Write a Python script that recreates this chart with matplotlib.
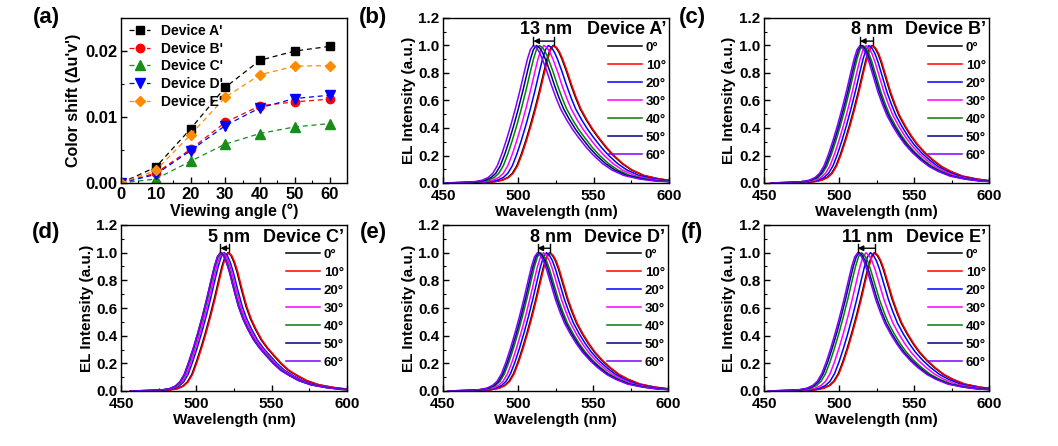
import numpy as np
import matplotlib.pyplot as plt
from matplotlib.ticker import MultipleLocator

plt.rcParams['font.family'] = ['Liberation Sans', 'DejaVu Sans']
plt.rcParams['font.weight'] = 'bold'
plt.rcParams['axes.labelweight'] = 'bold'
plt.rcParams['axes.linewidth'] = 1.0

# (a) colour shift vs viewing angle
angles = [0, 10, 20, 30, 40, 50, 60]
shift_a = [0, 0.0024, 0.0082, 0.0145, 0.0186, 0.0200, 0.0207]
shift_b = [0, 0.0015, 0.0051, 0.0092, 0.0117, 0.0123, 0.0127]
shift_c = [0, 0.0006, 0.0033, 0.0059, 0.0075, 0.0085, 0.0090]
shift_d = [0, 0.0013, 0.0049, 0.0087, 0.0114, 0.0128, 0.0133]
shift_e = [0, 0.0019, 0.0073, 0.0130, 0.0164, 0.0177, 0.0178]
devices = ["Device A'", "Device B'", "Device C'", "Device D'", "Device E'"]

# EL spectra: normalised line shape (offset from peak, nm) and peak positions per angle
prof_off = [-60, -40, -34, -30, -27, -24, -21, -18, -15, -12, -9, -6, -4, -2, 0,
            2, 4, 6, 9, 12, 15, 18, 22, 26, 30, 35, 40, 46, 52, 60, 70, 80, 100, 150]
prof_wide = [0.0, 0.008, 0.02, 0.04, 0.07, 0.125, 0.21, 0.31, 0.42, 0.54, 0.67, 0.81, 0.90, 0.97, 1.0,
             0.985, 0.95, 0.90, 0.81, 0.71, 0.62, 0.54, 0.46, 0.39, 0.33, 0.26, 0.20, 0.14, 0.095,
             0.055, 0.03, 0.015, 0.004, 0.0]
prof_mid = [0.0, 0.008, 0.02, 0.04, 0.07, 0.125, 0.21, 0.31, 0.42, 0.54, 0.67, 0.81, 0.90, 0.97, 1.0,
            0.98, 0.94, 0.88, 0.77, 0.66, 0.57, 0.49, 0.41, 0.34, 0.28, 0.22, 0.17, 0.12, 0.085,
            0.05, 0.028, 0.014, 0.004, 0.0]
prof_narrow = [0.0, 0.006, 0.016, 0.035, 0.065, 0.12, 0.21, 0.31, 0.42, 0.54, 0.67, 0.81, 0.90, 0.97, 1.0,
               0.98, 0.93, 0.86, 0.73, 0.61, 0.52, 0.45, 0.37, 0.31, 0.26, 0.20, 0.15, 0.11, 0.075,
               0.045, 0.025, 0.012, 0.003, 0.0]

peak_A = [523, 523.5, 520, 517, 514, 512, 510]
peak_B = [522, 522.5, 520, 518, 516, 515, 514]
peak_C = [521, 521.5, 518.5, 517.5, 516.5, 516, 516]
peak_D = [521, 521.5, 519, 517, 515, 514, 513]
peak_E = [523.5, 524, 521, 518, 515, 513.5, 512.5]
peak_shift_nm = [13, 8, 5, 8, 11]

angle_labels = ['0°', '10°', '20°', '30°', '40°', '50°', '60°']
angle_colors = ['#000000', '#ff0000', '#0000ff', '#ff00ff', '#008000', '#000080', '#8000ff']

W, H = 1058, 446
fig = plt.figure(figsize=(W / 100, H / 100), dpi=100)


def px_axes(left, right, top, bottom):
    return fig.add_axes([left / W, 1 - bottom / H, (right - left) / W, (bottom - top) / H])


def style(ax, size, xpad):
    ax.tick_params(which='both', direction='in', top=False, right=False)
    ax.tick_params(which='major', length=4, width=1.0, labelsize=size, pad=2.5)
    ax.tick_params(axis='x', which='major', pad=xpad)
    ax.tick_params(which='minor', length=2, width=0.8)


# panel (a)
ax = px_axes(121, 347, 18, 183)
markers = ['s', 'o', '^', 'v', 'D']
mcolors = ['#000000', '#ff0000', '#1a8c1a', '#0000ff', '#ff8c00']
msizes = [5.5, 6, 6.5, 6.5, 5.5]
for y, lab, m, c, s in zip([shift_a, shift_b, shift_c, shift_d, shift_e], devices, markers, mcolors, msizes):
    ax.plot(angles, y, ls='--', dashes=(4, 3), lw=0.9, color=c, marker=m, ms=s, mec=c, mfc=c, label=lab)
ax.set_xlim(0, 65)
ax.set_ylim(0, 0.025)
ax.xaxis.set_major_locator(MultipleLocator(10))
ax.xaxis.set_minor_locator(MultipleLocator(5))
ax.yaxis.set_major_locator(MultipleLocator(0.01))
ax.yaxis.set_minor_locator(MultipleLocator(0.005))
ax.yaxis.set_major_formatter(plt.FormatStrFormatter('%.2f'))
style(ax, 12, 3)
ax.set_xlabel('Viewing angle (°)', fontsize=11.5, labelpad=1)
ax.set_ylabel("Color shift (Δu'v')", fontsize=11.5, labelpad=3)
ax.legend(loc='upper left', bbox_to_anchor=(0.0, 1.015), frameon=False, fontsize=10,
          handlelength=1.5, handletextpad=0.8, labelspacing=0.27, borderaxespad=0.2, numpoints=1)

# spectra panels
spec = [
    (443, 669, 18, 183, peak_A, prof_wide, "Device A’"),
    (764, 989, 18, 183, peak_B, prof_mid, "Device B’"),
    (121, 347, 225, 391, peak_C, prof_narrow, "Device C’"),
    (443, 668, 225, 391, peak_D, prof_mid, "Device D’"),
    (764, 989, 225, 391, peak_E, prof_mid, "Device E’"),
]
off = np.array(prof_off)
for (l, r, t, b, peaks, prof, name), dnm in zip(spec, peak_shift_nm):
    ax = px_axes(l, r, t, b)
    for pk, lab, c in zip(peaks, angle_labels, angle_colors):
        ax.plot(pk + off, prof, color=c, lw=1.1, label=lab)
    ax.set_xlim(450, 600)
    ax.set_ylim(0, 1.2)
    ax.xaxis.set_major_locator(MultipleLocator(50))
    ax.xaxis.set_minor_locator(MultipleLocator(25))
    ax.yaxis.set_major_locator(MultipleLocator(0.2))
    ax.yaxis.set_minor_locator(MultipleLocator(0.1))
    ax.yaxis.set_major_formatter(plt.FormatStrFormatter('%.1f'))
    style(ax, 11, 4.5)
    ax.set_xlabel('Wavelength (nm)', fontsize=11, labelpad=1)
    ax.set_ylabel('EL Intensity (a.u.)', fontsize=11, labelpad=2)
    # peak-shift bracket
    lo, hi = min(peaks), max(peaks)
    ax.plot([lo, lo], [1.005, 1.06], color='k', lw=1.0)
    ax.plot([hi, hi], [1.005, 1.06], color='k', lw=1.0)
    ax.annotate('', xy=(lo, 1.032), xytext=(hi, 1.032),
                arrowprops=dict(arrowstyle='-|>', color='k', lw=1.0, mutation_scale=8,
                                shrinkA=0, shrinkB=0))
    ax.text(536, 1.08, f'{dnm} nm', ha='right', va='baseline', fontsize=13, fontweight='bold')
    ax.text(598, 1.08, name, ha='right', va='baseline', fontsize=13, fontweight='bold')
    ax.legend(loc='upper right', bbox_to_anchor=(1.01, 0.89), frameon=False, fontsize=9.5,
              handlelength=2.6, handletextpad=0.25, labelspacing=0.44, borderaxespad=0)

for lab, x, y in [('(a)', 46, 18), ('(b)', 373, 18), ('(c)', 692, 18),
                  ('(d)', 46, 233), ('(e)', 373, 233), ('(f)', 692, 233)]:
    fig.text(x / W, 1 - y / H, lab, ha='center', va='center', fontsize=16, fontweight='bold')

fig.savefig('out.png', dpi=100)
